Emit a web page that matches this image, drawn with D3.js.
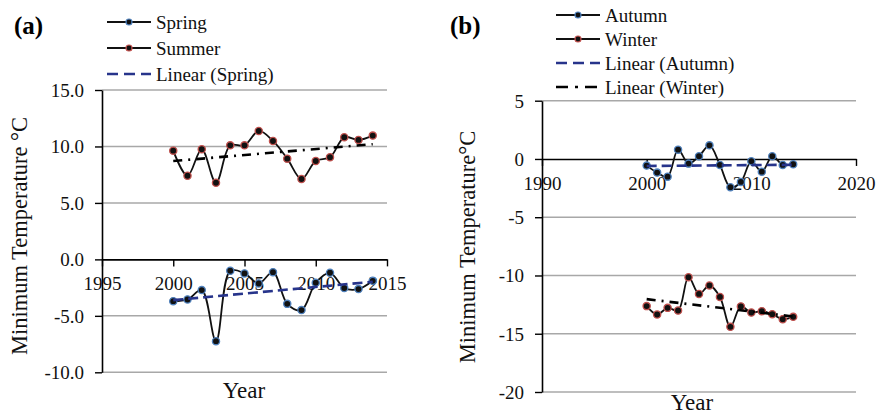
<!DOCTYPE html>
<html>
<head>
<meta charset="utf-8">
<script src="https://cdn.jsdelivr.net/npm/d3@7"></script>
<style>
  body { margin: 0; background: #fff; }
</style>
</head>
<body>
<svg id="chart" width="878" height="415"></svg>
<script>
// data
var years = [2000, 2001, 2002, 2003, 2004, 2005, 2006, 2007, 2008, 2009, 2010, 2011, 2012, 2013, 2014];
var spring = [-3.70, -3.55, -2.72, -7.24, -1.01, -1.24, -2.13, -1.13, -3.94, -4.49, -2.07, -1.19, -2.54, -2.63, -1.90];
var summer = [9.63, 7.41, 9.75, 6.79, 10.10, 10.10, 11.37, 10.49, 8.92, 7.12, 8.71, 9.04, 10.81, 10.58, 10.96];
var autumn = [-0.57, -1.17, -1.52, 0.80, -0.40, 0.23, 1.17, -0.51, -2.43, -1.97, -0.20, -1.09, 0.23, -0.51, -0.46];
var winter = [-12.63, -13.35, -12.78, -13.01, -10.15, -11.58, -10.86, -11.84, -14.41, -12.66, -13.18, -13.06, -13.32, -13.75, -13.55];

// linear trend end points [2000, 2014]
var springTrend = [-3.61, -1.98];
var summerTrend = [8.71, 10.20];
var autumnTrend = [-0.60, -0.50];
var winterTrend = [-12.03, -13.52];

var ticksA_y = [-10, -5, 0, 5, 10, 15];
var ticksA_x = [1995, 2000, 2005, 2010, 2015];
var ticksB_y = [-20, -15, -10, -5, 0, 5];
var ticksB_x = [1990, 2000, 2010, 2020];

var serif = 'Liberation Serif';
var blueEdge = '#4f81bd';
var redEdge = '#c0504d';
var navy = '#27348b';
var dashDot = '9,6,2,6';

var svg = d3.select('#chart');

drawPanel({
  label: '(a)', labelX: 14,
  xDomain: [1995, 2015], xRange: [102, 387],
  yDomain: [-10, 15], yRange: [372.3, 90],
  xTicks: ticksA_x, yTicks: ticksA_y, yFormat: function(d) { return d.toFixed(1); },
  yTitle: 'Minimum Temperature °C', yTitleX: 27, yTitleY: 236,
  xTitleX: 244, xTitleY: 398,
  series: [
    { values: spring, edge: blueEdge },
    { values: summer, edge: redEdge }
  ],
  trends: [
    { ends: springTrend, color: navy, dash: '10,5' },
    { ends: summerTrend, color: '#000', dash: dashDot }
  ],
  legend: { x: 107, rows: [22, 48, 74], items: [
    { name: 'Spring', edge: blueEdge },
    { name: 'Summer', edge: redEdge },
    { name: 'Linear (Spring)', color: navy, dash: '11,6' }
  ] }
});

drawPanel({
  label: '(b)', labelX: 450,
  xDomain: [1990, 2020], xRange: [542, 856],
  yDomain: [-20, 5], yRange: [392, 100.7],
  xTicks: ticksB_x, yTicks: ticksB_y, yFormat: function(d) { return String(d); },
  yTitle: 'Minimum Temperature°C', yTitleX: 475, yTitleY: 247,
  xTitleX: 692, xTitleY: 410,
  series: [
    { values: autumn, edge: blueEdge },
    { values: winter, edge: redEdge }
  ],
  trends: [
    { ends: autumnTrend, color: navy, dash: '10,5' },
    { ends: winterTrend, color: '#000', dash: dashDot }
  ],
  legend: { x: 556, rows: [15, 39, 63, 87], items: [
    { name: 'Autumn', edge: blueEdge },
    { name: 'Winter', edge: redEdge },
    { name: 'Linear (Autumn)', color: navy, dash: '11,6' },
    { name: 'Linear (Winter)', color: '#000', dash: '12,7,3,7' }
  ] }
});

// every text gets the serif face inline
svg.selectAll('text').style('font-family', serif);

function drawPanel(p) {
  var x = d3.scaleLinear().domain(p.xDomain).range(p.xRange);
  var y = d3.scaleLinear().domain(p.yDomain).range(p.yRange);
  var g = svg.append('g');

  // gridlines (0 is the x axis itself)
  g.selectAll('.grid')
    .data(p.yTicks.filter(function(d) { return d !== 0; }))
    .enter()
    .append('line')
    .attr('x1', p.xRange[0])
    .attr('x2', p.xRange[1])
    .attr('y1', y)
    .attr('y2', y)
    .attr('stroke', '#a8a8a8')
    .attr('stroke-width', 1.5);

  var yAxis = g.append('g')
    .attr('transform', 'translate(' + p.xRange[0] + ',0)')
    .call(d3.axisLeft(y).tickValues(p.yTicks).tickFormat(p.yFormat).tickSize(7).tickSizeOuter(0).tickPadding(11));

  var xAxis = g.append('g')
    .attr('transform', 'translate(0,' + y(0) + ')')
    .call(d3.axisBottom(x).tickValues(p.xTicks).tickFormat(function(d) { return String(d); }).tickSize(7).tickSizeOuter(0));
  xAxis.selectAll('text').attr('y', 31).attr('dy', null);
  yAxis.selectAll('text').attr('dy', null).attr('y', 6.5);

  [yAxis, xAxis].forEach(function(a) {
    a.attr('font-family', null).attr('font-size', null);
    a.select('.domain').attr('stroke', '#000').attr('stroke-width', 1.6);
    a.selectAll('.tick line').attr('stroke', '#000').attr('stroke-width', 1.4);
    a.selectAll('text').attr('fill', '#111').attr('font-size', 19);
  });

  var line = d3.line()
    .x(function(d, i) { return x(years[i]); })
    .y(function(d) { return y(d); })
    .curve(d3.curveCatmullRom.alpha(0.5));

  p.series.forEach(function(s) {
    g.append('path')
      .attr('d', line(s.values))
      .attr('fill', 'none')
      .attr('stroke', '#111')
      .attr('stroke-width', 1.8);
    g.selectAll(null)
      .data(s.values)
      .enter()
      .append('circle')
      .attr('cx', function(d, i) { return x(years[i]); })
      .attr('cy', y)
      .attr('r', 3.6)
      .attr('fill', '#111')
      .attr('stroke', s.edge)
      .attr('stroke-width', 1.3);
  });

  p.trends.forEach(function(t) {
    g.append('line')
      .attr('x1', x(years[0]))
      .attr('x2', x(years[years.length - 1]))
      .attr('y1', y(t.ends[0]))
      .attr('y2', y(t.ends[1]))
      .attr('stroke', t.color)
      .attr('stroke-width', 2.6)
      .attr('stroke-dasharray', t.dash);
  });

  // legend
  var lg = g.append('g');
  p.legend.items.forEach(function(item, i) {
    var ry = p.legend.rows[i];
    lg.append('line')
      .attr('x1', p.legend.x)
      .attr('x2', p.legend.x + 44)
      .attr('y1', ry)
      .attr('y2', ry)
      .attr('stroke', item.color || '#111')
      .attr('stroke-width', item.dash ? 2.6 : 2)
      .attr('stroke-dasharray', item.dash || null);
    if (item.edge) {
      lg.append('circle')
        .attr('cx', p.legend.x + 22)
        .attr('cy', ry)
        .attr('r', 3)
        .attr('fill', '#111')
        .attr('stroke', item.edge)
        .attr('stroke-width', 1.2);
    }
    lg.append('text')
      .attr('x', p.legend.x + 49)
      .attr('y', ry + 6.5)
      .attr('font-size', 19)
      .attr('fill', '#111')
      .text(item.name);
  });

  g.append('text')
    .attr('x', p.labelX)
    .attr('y', 34)
    .attr('font-size', 25)
    .attr('font-weight', 'bold')
    .text(p.label);

  g.append('text')
    .attr('transform', 'translate(' + p.yTitleX + ',' + p.yTitleY + ') rotate(-90)')
    .attr('text-anchor', 'middle')
    .attr('font-size', 22.5)
    .attr('fill', '#111')
    .text(p.yTitle);

  g.append('text')
    .attr('x', p.xTitleX)
    .attr('y', p.xTitleY)
    .attr('text-anchor', 'middle')
    .attr('font-size', 23)
    .attr('fill', '#111')
    .text('Year');
}
</script>
</body>
</html>
